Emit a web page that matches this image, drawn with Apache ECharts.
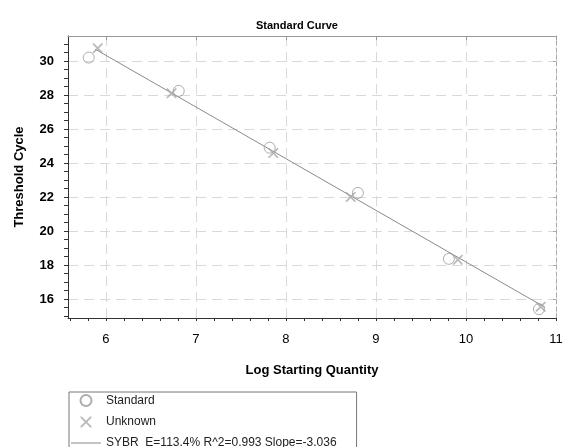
<!DOCTYPE html>
<html>
<head>
<meta charset="utf-8">
<script src="https://cdn.jsdelivr.net/npm/echarts@6/dist/echarts.min.js"></script>
<style>
    html, body { margin: 0; padding: 0; background: #fff; }
    #chart { width: 567px; height: 447px; }
</style>
</head>
<body>
<div id="chart"></div>
<script>
// values
const standardX = [5.81, 6.81, 7.82, 8.80, 9.81, 10.81];
const standardY = [30.2, 28.24, 24.9, 22.24, 18.36, 15.4];
const unknownX = [5.91, 6.73, 7.86, 8.72, 9.91, 10.83];
const unknownY = [30.75, 28.1, 24.58, 22.0, 18.3, 15.54];
const fitX = [5.88, 10.88];
const fitY = [30.7, 15.5];

const xLabels = [6, 7, 8, 9, 10, 11];
const xMinor = [5.6, 5.8, 6, 6.2, 6.4, 6.6, 6.8, 7, 7.2, 7.4, 7.6, 7.8, 8, 8.2, 8.4, 8.6, 8.8, 9, 9.2, 9.4, 9.6, 9.8, 10, 10.2, 10.4, 10.6, 10.8, 11];
const yLabels = [16, 18, 20, 22, 24, 26, 28, 30];
const yMinor = [15, 15.5, 16, 16.5, 17, 17.5, 18, 18.5, 19, 19.5, 20, 20.5, 21, 21.5, 22, 22.5, 23, 23.5, 24, 24.5, 25, 25.5, 26, 26.5, 27, 27.5, 28, 28.5, 29, 29.5, 30, 30.5, 31];

const fitName = "SYBR  E=113.4% R^2=0.993 Slope=-3.036";
const font = "'Liberation Sans', Arial, sans-serif";
const crossPath = "path://M0,0 L1.2,0 L5,3.8 L8.8,0 L10,0 L10,1.2 L6.2,5 L10,8.8 L10,10 L8.8,10 L5,6.2 L1.2,10 L0,10 L0,8.8 L3.8,5 L0,1.2 Z";
// thin horizontal bar, with two tiny corner dots so the icon box stays 30x11
const lineIcon = "path://M0,0 H0.05 V0.05 H0 Z M0,5 H30 V6 H0 Z M29.95,10.95 H30 V11 H29.95 Z";

const zip = (xs, ys) => xs.map((x, i) => [x, ys[i]]);

const chart = echarts.init(document.getElementById("chart"));
const gridLine = { show: true, lineStyle: { color: "#d9d9d9", type: [10, 6], width: 1 } };

chart.setOption({
    animation: false,
    title: {
        text: "Standard Curve",
        left: 251,
        top: 15,
        textStyle: { fontFamily: font, fontSize: 11, fontWeight: "bold", color: "#000" }
    },
    grid: { left: 68, top: 36, right: 11, bottom: 129 },
    legend: {
        orient: "vertical",
        left: 69,
        top: 392,
        height: 120,
        padding: [2, 20, 6, 2],
        itemWidth: 30,
        itemHeight: 11,
        itemGap: 9,
        borderColor: "#777",
        borderWidth: 1,
        textStyle: { fontFamily: font, fontSize: 12, color: "#222" },
        data: [
            { name: "Standard" },
            { name: "Unknown" },
            { name: fitName, icon: lineIcon, itemStyle: { color: "#8a8a8a" } }
        ]
    },
    xAxis: [
        {
            type: "value",
            position: "bottom",
            min: 5.58,
            max: 11,
            name: "Log Starting Quantity",
            nameLocation: "middle",
            nameGap: 46,
            nameTextStyle: { fontFamily: font, fontSize: 13, fontWeight: "bold", color: "#000" },
            axisLine: { lineStyle: { color: "#333" } },
            axisTick: { customValues: xMinor, length: 3, lineStyle: { color: "#333" } },
            axisLabel: { customValues: xLabels, margin: 15, fontFamily: font, fontSize: 13, color: "#000" },
            splitLine: { show: false }
        },
        {
            type: "value",
            position: "top",
            min: 5.58,
            max: 11,
            axisLine: { lineStyle: { color: "#999" } },
            axisTick: { customValues: xLabels, inside: true, length: 4, lineStyle: { color: "#999" } },
            axisLabel: { show: false },
            splitLine: gridLine
        }
    ],
    yAxis: [
        {
            type: "value",
            position: "left",
            min: 14.88,
            max: 31.47,
            name: "Threshold Cycle",
            nameLocation: "middle",
            nameGap: 42,
            nameTextStyle: { fontFamily: font, fontSize: 13, fontWeight: "bold", color: "#000" },
            axisLine: { show: true, lineStyle: { color: "#333" } },
            axisTick: { show: true, customValues: yMinor, length: 4, lineStyle: { color: "#333" } },
            axisLabel: { customValues: yLabels, margin: 14, fontFamily: font, fontSize: 13, fontWeight: "bold", color: "#000" },
            splitLine: { show: false }
        },
        {
            type: "value",
            position: "right",
            min: 14.88,
            max: 31.47,
            axisLine: { show: true, lineStyle: { color: "#aaa", type: [4, 3] } },
            axisTick: { show: true, customValues: yLabels, inside: true, length: 3, lineStyle: { color: "#aaa" } },
            axisLabel: { show: false },
            splitLine: gridLine
        }
    ],
    series: [
        {
            name: fitName,
            type: "line",
            symbol: "none",
            symbolKeepAspect: true,
            data: zip(fitX, fitY),
            lineStyle: { color: "#8a8a8a", width: 1 },
            itemStyle: { color: "#8a8a8a" },
            z: 2
        },
        {
            name: "Standard",
            type: "scatter",
            symbol: "circle",
            symbolSize: 11,
            data: zip(standardX, standardY),
            itemStyle: { color: "rgba(255,255,255,0)", borderColor: "#999", borderWidth: 1 },
            z: 3
        },
        {
            name: "Unknown",
            type: "scatter",
            symbol: crossPath,
            symbolSize: 10,
            symbolKeepAspect: true,
            data: zip(unknownX, unknownY),
            itemStyle: { color: "#a8a8a8" },
            z: 4
        }
    ]
});
</script>
</body>
</html>
